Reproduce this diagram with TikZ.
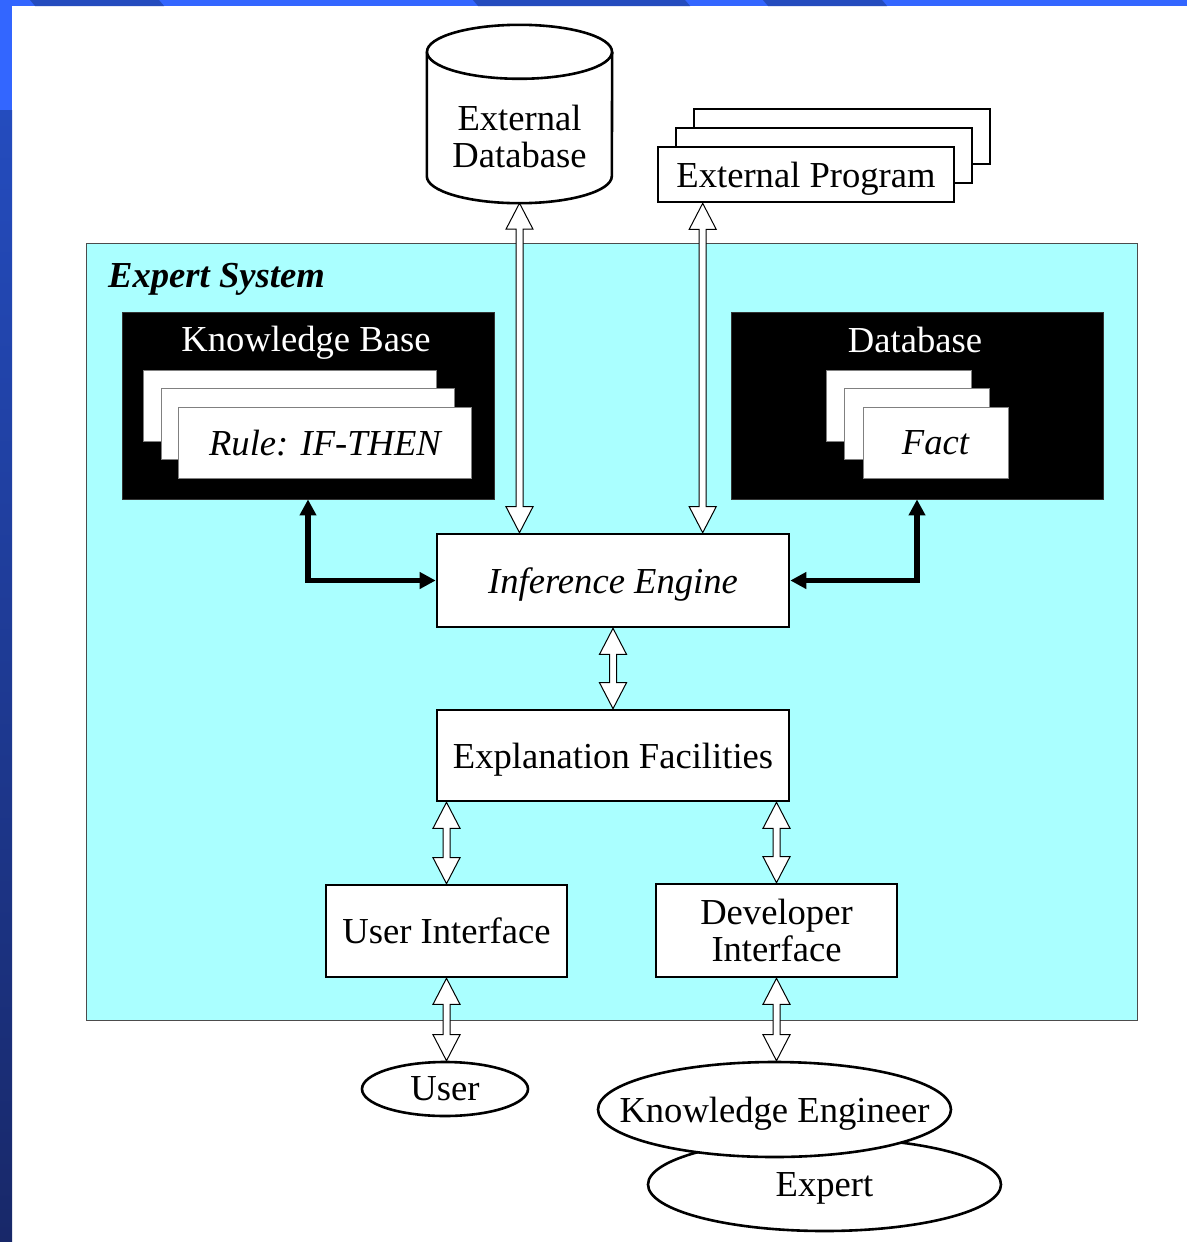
\documentclass[tikz,border=0pt]{standalone}
\usepackage{fontspec}
\setmainfont{Liberation Serif}
\usetikzlibrary{arrows.meta,positioning,calc,shapes.geometric}
\definecolor{syscyan}{RGB}{170,255,255}
\definecolor{slidelight}{RGB}{51,102,255}
\definecolor{slidedark}{RGB}{36,76,190}
\definecolor{slidenavy}{RGB}{24,40,105}
\newcommand\diagfont{\fontsize{36.6}{37}\selectfont}
\newcommand\hollowarrow[2]{%
  \draw[hollow] let \p1=(#1), \p2=(#2) in
    (\x1,\y1) -- (\x1+13.5pt,\y1-26pt) -- (\x1+3.5pt,\y1-26pt) -- (\x1+3.5pt,\y2+26pt)
    -- (\x1+13.5pt,\y2+26pt) -- (\x1,\y2) -- (\x1-13.5pt,\y2+26pt) -- (\x1-3.5pt,\y2+26pt)
    -- (\x1-3.5pt,\y1-26pt) -- (\x1-13.5pt,\y1-26pt) -- cycle;}

\begin{document}
\begin{tikzpicture}[x=1pt,y=-1pt,font=\diagfont,
  box/.style={draw, line width=2.6pt, fill=white, inner sep=0pt, text depth=0pt},
  blackbox/.style={draw=black!80, line width=0.8pt, fill=black, inner sep=0pt, minimum width=372pt, minimum height=187pt},
  card/.style={draw=black!50, line width=0.8pt, fill=white, inner sep=0pt, minimum height=71pt},
  person/.style={ellipse, draw, line width=2.6pt, fill=white, inner sep=0pt, text depth=0pt},
  hollow/.style={draw=black, line width=1pt, fill=white, line join=miter},
  thickarrow/.style={line width=5.5pt, {Triangle[length=16pt,width=16pt]}-{Triangle[length=16pt,width=16pt]}}]
	\useasboundingbox (0,0) rectangle (1187,1242);
	\fill[white] (0,0) rectangle (1187,1242);
	\fill[slidelight] (0,0) rectangle (1187,6);
	\fill[slidedark] (30,0) -- (159,0) -- (164,6) -- (35,6) -- cycle;
	\fill[slidedark] (473,0) -- (685,0) -- (690,6) -- (478,6) -- cycle;
	\fill[slidedark] (763,0) -- (882,0) -- (887,6) -- (768,6) -- cycle;
	\fill[slidelight] (0,0) rectangle (12,1242);
	\shade[top color=slidedark, bottom color=slidenavy] (0,110) rectangle (12,1242);
	
	\node[draw=black!70, line width=0.8pt, fill=syscyan, inner sep=0pt, minimum width=1051pt, minimum height=777pt] (expsys) at (611.5,631.5) {};
	\node[anchor=west, inner sep=0pt, font=\diagfont\bfseries\itshape] (expsystitle) at (108,279) {Expert System};
	
	\node[blackbox] (kb) at (308,405.5) {};
	\node[text=white] (kbtitle) at (306,343) {Knowledge Base};
	\foreach \i in {0,1}
		\node[card, minimum width=293pt] (kbcard\i) at (289.5+18.5*\i,405.5+18.5*\i) {};
	\node[card, minimum width=293pt] (rule) at (325,443) {\itshape Rule: IF-THEN};
	
	\node[blackbox] (db) at (917,405.5) {};
	\node[text=white] (dbtitle) at (915,340) {Database};
	\foreach \i in {0,1}
		\node[card, minimum width=145pt] (dbcard\i) at (898.5+18.5*\i,405.5+18.5*\i) {};
	\node[card, minimum width=145pt] (fact) at (935.5,442.5) {\itshape Fact};
	
	\node[minimum width=185pt, minimum height=178pt, inner sep=0pt] (extdb) at (519.5,114) {};
	\draw[line width=2.6pt, fill=white] ($(extdb.north west)+(0,27)$) -- ($(extdb.south west)+(0,-27)$)
		arc[start angle=180, end angle=0, x radius=92.5, y radius=27] -- ($(extdb.north east)+(0,27)$);
	\draw[line width=2.6pt, fill=white] ($(extdb.north)+(0,27)$) ellipse[x radius=92.5, y radius=27];
	\node[align=center] (extdbtext) at (519.5,136) {External\\Database};
	
	\foreach \i in {2,1}
		\node[box, minimum width=296pt, minimum height=55pt] (extprog\i) at (806+18*\i,174.5-19*\i) {};
	\node[box, minimum width=296pt, minimum height=55pt] (extprog) at (806,174.5) {External Program};
	\coordinate (extprogport) at ($(extprog.south west)+(46,0)$);
	
	\node[box, minimum width=352pt, minimum height=93pt] (infer) at (613,580.5) {\itshape Inference Engine};
	\node[box, minimum width=352pt, minimum height=91pt] (expl) at (613,755.5) {Explanation Facilities};
	\node[box, minimum width=241pt, minimum height=92pt] (userui) at (446.5,931) {User Interface};
	\node[box, minimum width=241pt, minimum height=93pt, align=center] (devui) at (776.5,930.5) {Developer\\Interface};
	
	\node[person, minimum width=166pt, minimum height=54pt] (user) at (445,1089) {User};
	\node[person, minimum width=353pt, minimum height=93pt] (expert) at (824.5,1184.5) {Expert};
	\node[person, minimum width=353pt, minimum height=95pt] (keng) at (774.5,1109.5) {\makebox[0pt]{Knowledge Engineer}};
	
	\hollowarrow{extdb.south}{infer.north}
	\hollowarrow{extprogport}{infer.north}
	\hollowarrow{infer.south}{expl.north}
	\hollowarrow{expl.south -| userui.north}{userui.north}
	\hollowarrow{expl.south -| devui.north}{devui.north}
	\hollowarrow{userui.south}{user.north}
	\hollowarrow{devui.south}{keng.north}
	
	\draw[thickarrow] (kb.south) |- (infer.west);
	\draw[thickarrow] (db.south) |- (infer.east);
\end{tikzpicture}
\end{document}
